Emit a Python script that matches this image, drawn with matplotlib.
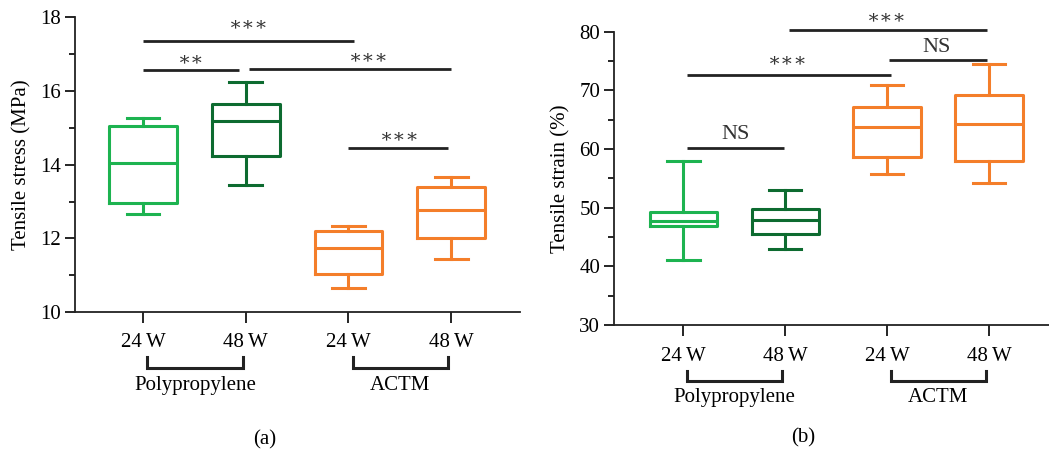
import numpy as np
import matplotlib
matplotlib.use("Agg")
import matplotlib.pyplot as plt

plt.rcParams['font.family'] = ['Liberation Serif', 'DejaVu Serif']

groups = ['24\u2009W', '48\u2009W', '24\u2009W', '48\u2009W']
colors = ['#1db350', '#0d6b30', '#f47e2a', '#f47e2a']

# panel (a) tensile stress (MPa): low whisker, Q1, median, Q3, high whisker
stress_lo = [12.65, 13.44, 10.64, 11.43]
stress_q1 = [12.96, 14.23, 11.02, 12.00]
stress_med = [14.05, 15.20, 11.75, 12.76]
stress_q3 = [15.04, 15.65, 12.20, 13.40]
stress_hi = [15.27, 16.26, 12.33, 13.68]

# panel (b) tensile strain (%)
strain_lo = [41.0, 42.9, 55.7, 54.3]
strain_q1 = [46.8, 45.5, 58.7, 58.0]
strain_med = [47.8, 47.9, 63.8, 64.2]
strain_q3 = [49.2, 49.7, 67.1, 69.3]
strain_hi = [57.9, 53.0, 71.0, 74.5]

# significance bars: (x start, x end, y, label, label x, label y)
stress_sig = [(1.0, 3.05, 17.37, '∗∗∗', 2.03, 17.8),
              (1.0, 1.93, 16.57, '∗∗', 1.47, 16.85),
              (2.03, 4.0, 16.59, '∗∗∗', 3.2, 16.9),
              (3.0, 3.97, 14.45, '∗∗∗', 3.5, 14.75)]
strain_sig = [(2.04, 3.98, 80.3, '∗∗∗', 3.0, 82.3),
              (3.02, 3.98, 75.2, 'NS', 3.49, 77.4),
              (1.04, 3.04, 72.7, '∗∗∗', 2.03, 75.0),
              (1.04, 1.99, 60.2, 'NS', 1.51, 62.5)]

fig = plt.figure(figsize=(10.49, 4.51), dpi=100)
ax1 = fig.add_axes([0.0715, 0.3082, 0.4242, 0.653])
ax2 = fig.add_axes([0.5853, 0.2794, 0.4147, 0.650])


def draw(ax, lo, q1, med, q3, hi, sig, ylim, ystep, yminor, ylabel, xlim, brk_y, lab_y, tpad):
    stats = []
    for i in range(4):
        stats.append(dict(whislo=lo[i], q1=q1[i], med=med[i], q3=q3[i], whishi=hi[i], fliers=[]))
    bp = ax.bxp(stats, positions=[1, 2, 3, 4], widths=0.66, showfliers=False,
                patch_artist=False, capwidths=0.32)
    for i in range(4):
        c = colors[i]
        bp['boxes'][i].set(color=c, linewidth=2.2)
        bp['medians'][i].set(color=c, linewidth=2.2)
        for w in bp['whiskers'][2 * i:2 * i + 2]:
            w.set(color=c, linewidth=2.2)
        for cp in bp['caps'][2 * i:2 * i + 2]:
            cp.set(color=c, linewidth=2.2)
    for x0, x1, y, lab, tx, ty in sig:
        ax.plot([x0, x1], [y, y], color='#222222', lw=2.0, clip_on=False, solid_capstyle='butt')
        ax.text(tx, ty, lab, ha='center', va='center', fontsize=16 if lab == 'NS' else 14,
                color='#333333', clip_on=False)
    ax.set_ylim(*ylim)
    ax.set_xlim(*xlim)
    ax.set_yticks(np.arange(ylim[0], ylim[1] + 0.1, ystep))
    ax.set_yticks(np.arange(ylim[0], ylim[1] + 0.1, yminor), minor=True)
    ax.set_xticks([1, 2, 3, 4])
    ax.set_xticklabels(groups)
    ax.spines['top'].set_visible(False)
    ax.spines['right'].set_visible(False)
    for s in ['left', 'bottom']:
        ax.spines[s].set_linewidth(1.3)
        ax.spines[s].set_color('#222222')
    ax.tick_params(axis='y', which='major', length=7, width=1.2, labelsize=15, pad=3)
    ax.tick_params(axis='y', which='minor', length=4, width=1.2)
    ax.tick_params(axis='x', length=8, width=1.2, labelsize=15, pad=tpad)
    ax.set_ylabel(ylabel, fontsize=15, labelpad=6)
    tr = ax.get_xaxis_transform()
    for a, b, name in [(1.04, 1.97, 'Polypropylene'), (3.04, 3.97, 'ACTM')]:
        ax.plot([a, a, b, b], [brk_y[0], brk_y[1], brk_y[1], brk_y[0]], color='#222222',
                lw=2.2, transform=tr, clip_on=False, solid_joinstyle='miter')
        ax.text((a + b) / 2, lab_y, name, transform=tr, ha='center', va='center', fontsize=15)


draw(ax1, stress_lo, stress_q1, stress_med, stress_q3, stress_hi, stress_sig,
     (10, 18), 2, 1, 'Tensile stress (MPa)', (0.338, 4.67), (-0.153, -0.19), -0.248, 7)
draw(ax2, strain_lo, strain_q1, strain_med, strain_q3, strain_hi, strain_sig,
     (30, 80), 10, 5, 'Tensile strain (%)', (0.32, 4.59), (-0.157, -0.191), -0.249, 8)

fig.text(0.252, 0.024, '(a)', ha='center', va='center', fontsize=15)
fig.text(0.766, 0.029, '(b)', ha='center', va='center', fontsize=15)

fig.savefig('out.png', dpi=100)
